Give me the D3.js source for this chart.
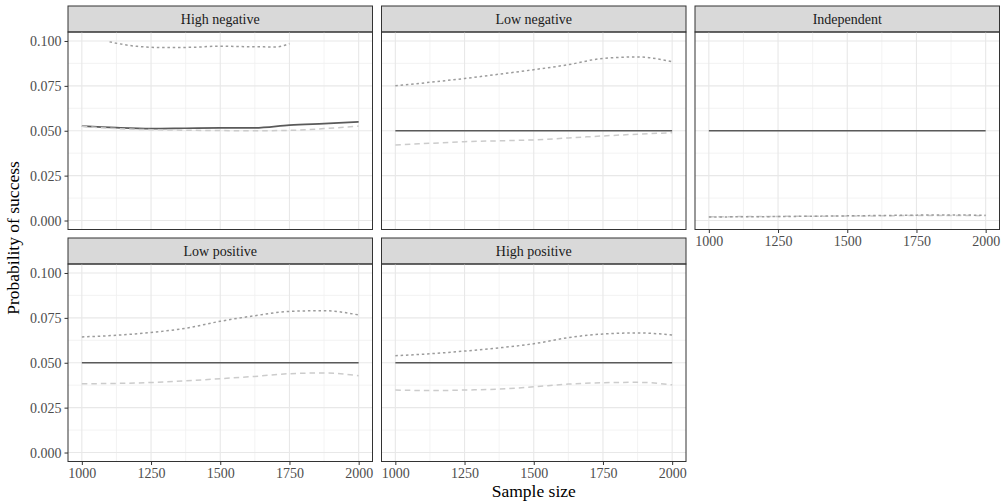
<!DOCTYPE html>
<html>
<head>
<meta charset="utf-8">
<script src="https://d3js.org/d3.v7.min.js"></script>
<style>
  body { margin: 0; background: white; }
  text { font-family: "Liberation Serif", "DejaVu Serif", serif; }
</style>
</head>
<body>
<div class="vis"></div>
<script>
  // data
  var panels = ["High negative", "Low negative", "Independent", "Low positive", "High positive"];
  var sizes = [1000, 1125, 1250, 1375, 1500, 1625, 1750, 1875, 2000];
  var sizesShort = [1100, 1200, 1300, 1400, 1500, 1600, 1700, 1750];

  var solidHN = [0.0526, 0.0517, 0.0512, 0.0514, 0.0516, 0.0516, 0.0531, 0.0540, 0.0549];
  var dashHN = [0.0525, 0.0512, 0.0506, 0.0503, 0.0501, 0.0500, 0.0502, 0.0512, 0.0526];
  var dotHN = [0.0995, 0.0970, 0.0963, 0.0965, 0.0971, 0.0968, 0.0967, 0.0985];

  var solidLN = [0.05, 0.05, 0.05, 0.05, 0.05, 0.05, 0.05, 0.05, 0.05];
  var dashLN = [0.0421, 0.0430, 0.0439, 0.0444, 0.0449, 0.0460, 0.0471, 0.0481, 0.0489];
  var dotLN = [0.0750, 0.0770, 0.0791, 0.0815, 0.0840, 0.0868, 0.0903, 0.0911, 0.0884];

  var solidIN = [0.05, 0.05, 0.05, 0.05, 0.05, 0.05, 0.05, 0.05, 0.05];
  var dashIN = [0.0021, 0.0022, 0.0023, 0.0024, 0.0025, 0.0026, 0.0028, 0.0028, 0.0027];
  var dotIN = [0.0019, 0.0021, 0.0022, 0.0024, 0.0026, 0.0028, 0.0030, 0.0031, 0.0029];

  var solidLP = [0.05, 0.05, 0.05, 0.05, 0.05, 0.05, 0.05, 0.05, 0.05];
  var dashLP = [0.0383, 0.0385, 0.0390, 0.0399, 0.0411, 0.0424, 0.0439, 0.0443, 0.0428];
  var dotLP = [0.0644, 0.0653, 0.0669, 0.0692, 0.0731, 0.0762, 0.0786, 0.0790, 0.0766];

  var solidHP = [0.05, 0.05, 0.05, 0.05, 0.05, 0.05, 0.05, 0.05, 0.05];
  var dashHP = [0.0348, 0.0345, 0.0348, 0.0353, 0.0366, 0.0381, 0.0389, 0.0391, 0.0377];
  var dotHP = [0.0539, 0.0550, 0.0565, 0.0583, 0.0606, 0.0640, 0.0660, 0.0666, 0.0655];

  var xTicks = [1000, 1250, 1500, 1750, 2000];
  var yTicks = [0, 0.025, 0.05, 0.075, 0.1];

  var series = [
    [{x: sizes, y: solidHN}, {x: sizes, y: dashHN}, {x: sizesShort, y: dotHN}],
    [{x: sizes, y: solidLN}, {x: sizes, y: dashLN}, {x: sizes, y: dotLN}],
    [{x: sizes, y: solidIN}, {x: sizes, y: dashIN}, {x: sizes, y: dotIN}],
    [{x: sizes, y: solidLP}, {x: sizes, y: dashLP}, {x: sizes, y: dotLP}],
    [{x: sizes, y: solidHP}, {x: sizes, y: dashHP}, {x: sizes, y: dotHP}]
  ];
  var styles = [
    {stroke: "#5a5a5a", width: 1.7, dash: null},
    {stroke: "#cccccc", width: 1.5, dash: "5.5,4"},
    {stroke: "#9c9c9c", width: 1.5, dash: "2.5,2.8"}
  ];

  var W = 1001, H = 501;
  var colX = [68, 381.5, 695];
  var rowY = [6, 238];
  var pw = 304.5, stripH = 26, ph = 197.5;

  var svg = d3.select(".vis").append("svg")
    .attr("width", W).attr("height", H);

  var x = d3.scaleLinear().domain([950, 2050]).range([0, pw]);
  var y = d3.scaleLinear().domain([-0.005, 0.105]).range([ph, 0]);
  var line = d3.line()
    .x(function (d) { return x(d[0]); })
    .y(function (d) { return y(d[1]); })
    .curve(d3.curveMonotoneX);

  panels.forEach(function (name, i) {
    var c = i % 3, r = Math.floor(i / 3);
    var g = svg.append("g")
      .attr("transform", "translate(" + colX[c] + "," + (rowY[r] + stripH) + ")");

    // strip
    g.append("rect")
      .attr("x", 0).attr("y", -stripH).attr("width", pw).attr("height", stripH)
      .attr("fill", "#d9d9d9").attr("stroke", "#333").attr("stroke-width", 1);
    g.append("text")
      .attr("x", pw / 2).attr("y", -stripH / 2 + 4.5)
      .attr("text-anchor", "middle").attr("font-size", 14).attr("fill", "#1a1a1a")
      .text(name);

    // grid
    var minorX = [1125, 1375, 1625, 1875];
    var minorY = [0.0125, 0.0375, 0.0625, 0.0875];
    g.selectAll(".gmx").data(minorX).enter().append("line")
      .attr("x1", function (d) { return x(d); }).attr("x2", function (d) { return x(d); })
      .attr("y1", 0).attr("y2", ph).attr("stroke", "#f0f0f0").attr("stroke-width", 0.8);
    g.selectAll(".gmy").data(minorY).enter().append("line")
      .attr("y1", function (d) { return y(d); }).attr("y2", function (d) { return y(d); })
      .attr("x1", 0).attr("x2", pw).attr("stroke", "#f0f0f0").attr("stroke-width", 0.8);
    g.selectAll(".gx").data(xTicks).enter().append("line")
      .attr("x1", function (d) { return x(d); }).attr("x2", function (d) { return x(d); })
      .attr("y1", 0).attr("y2", ph).attr("stroke", "#e8e8e8").attr("stroke-width", 1.1);
    g.selectAll(".gy").data(yTicks).enter().append("line")
      .attr("y1", function (d) { return y(d); }).attr("y2", function (d) { return y(d); })
      .attr("x1", 0).attr("x2", pw).attr("stroke", "#e8e8e8").attr("stroke-width", 1.1);

    // lines
    series[i].forEach(function (s, k) {
      var pts = s.x.map(function (v, j) { return [v, s.y[j]]; });
      g.append("path")
        .attr("d", line(pts))
        .attr("fill", "none")
        .attr("stroke", styles[k].stroke)
        .attr("stroke-width", styles[k].width)
        .attr("stroke-dasharray", styles[k].dash);
    });

    // border
    g.append("rect")
      .attr("x", 0).attr("y", 0).attr("width", pw).attr("height", ph)
      .attr("fill", "none").attr("stroke", "#333").attr("stroke-width", 1);

    // y axis on left column
    if (c === 0) {
      var ya = g.append("g").call(d3.axisLeft(y).tickValues(yTicks).tickSize(3.5).tickPadding(3)
        .tickFormat(d3.format(".3f")));
      ya.select(".domain").remove();
      ya.selectAll("line").attr("stroke", "#333");
      ya.selectAll("text").attr("font-size", 14).attr("fill", "#4d4d4d")
        .attr("font-family", "Liberation Serif, serif");
    }
    // x axis on bottom-most panel of each column
    if (r === 1 || i === 2) {
      var xa = g.append("g").attr("transform", "translate(0," + ph + ")")
        .call(d3.axisBottom(x).tickValues(xTicks).tickSize(3.5).tickPadding(3)
          .tickFormat(d3.format("d")));
      xa.select(".domain").remove();
      xa.selectAll("line").attr("stroke", "#333");
      xa.selectAll("text").attr("font-size", 14).attr("fill", "#4d4d4d")
        .attr("font-family", "Liberation Serif, serif");
    }
  });

  // axis titles
  svg.append("text")
    .attr("x", (colX[0] + colX[2] + pw) / 2).attr("y", 497)
    .attr("text-anchor", "middle").attr("font-size", 17.5).attr("fill", "#000")
    .text("Sample size");
  svg.append("text")
    .attr("transform", "translate(19,238) rotate(-90)")
    .attr("text-anchor", "middle").attr("font-size", 17.5).attr("fill", "#000")
    .text("Probability of success");
</script>
</body>
</html>
